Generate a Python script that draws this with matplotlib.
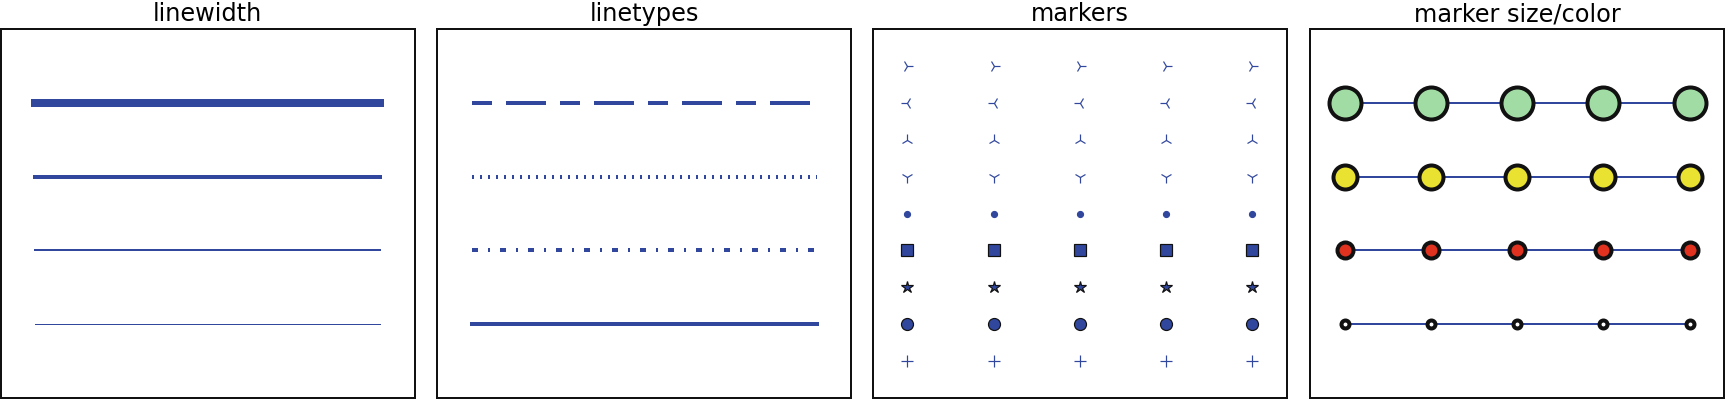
import matplotlib
matplotlib.use("Agg")
import matplotlib.pyplot as plt

plt.rcParams['font.family'] = ['DejaVu Sans']
plt.rcParams['lines.scale_dashes'] = False

BLUE = '#31479e'
EDGE = '#111111'

# data
x = [-5, -2.5, 0, 2.5, 5]
linewidths = [0.5, 1.0, 2.0, 4.0]
linestyles = ['-', (0, (3, 5, 1, 5)), (0, (1, 3))]
custom_dashes = [10, 7, 20, 7]
markers = ['+', 'o', '*', 's', '.', '1', '2', '3', '4']
filled = {'o', '*', 's'}
markersizes = [4, 8, 12, 16]
markercolors = ['white', '#e0321f', '#e9e231', '#a2dca5']
titles = ['linewidth', 'linetypes', 'markers', 'marker size/color']

DPI = 144
fig = plt.figure(figsize=(1729 / DPI, 400 / DPI), dpi=DPI)

lefts_px = [0.5, 437, 873, 1310]
width_px = 414
bottom = 2 / 400
height = (398 - 29) / 400
axes = [fig.add_axes([l / 1729, bottom, width_px / 1729, height]) for l in lefts_px]


def settings(ax, title, ymax):
    ax.set_xticks([])
    ax.set_yticks([])
    ax.set_xlim(-6, 6)
    ax.set_ylim(0, ymax + 1)
    ax.set_title(title, fontsize=12, pad=4)
    for s in ax.spines.values():
        s.set_linewidth(1.0)
        s.set_color(EDGE)


# linewidth
for n, lw in enumerate(linewidths):
    axes[0].plot(x, [n + 1] * len(x), color=BLUE, linewidth=lw)
settings(axes[0], titles[0], len(linewidths))

# linetypes
for n, ls in enumerate(linestyles):
    axes[1].plot(x, [n + 1] * len(x), color=BLUE, lw=2, linestyle=ls)
line, = axes[1].plot(x, [len(linestyles) + 1] * len(x), color=BLUE, lw=2)
line.set_dashes(custom_dashes)
settings(axes[1], titles[1], len(linestyles) + 1)

# markers
for n, m in enumerate(markers):
    mec = EDGE if m in filled else BLUE
    axes[2].plot(x, [n + 1] * len(x), color=BLUE, ls='None', marker=m,
                 markersize=6, markeredgewidth=0.6, markeredgecolor=mec,
                 markerfacecolor=BLUE)
settings(axes[2], titles[2], len(markers))

# marker size/color
for n, (ms, mfc) in enumerate(zip(markersizes, markercolors)):
    axes[3].plot(x, [n + 1] * len(x), color=BLUE, lw=1, ls='-', marker='o',
                 markersize=ms, markerfacecolor=mfc, markeredgewidth=2,
                 markeredgecolor=EDGE)
settings(axes[3], titles[3], len(markersizes))

fig.savefig('out.png', dpi=DPI)
